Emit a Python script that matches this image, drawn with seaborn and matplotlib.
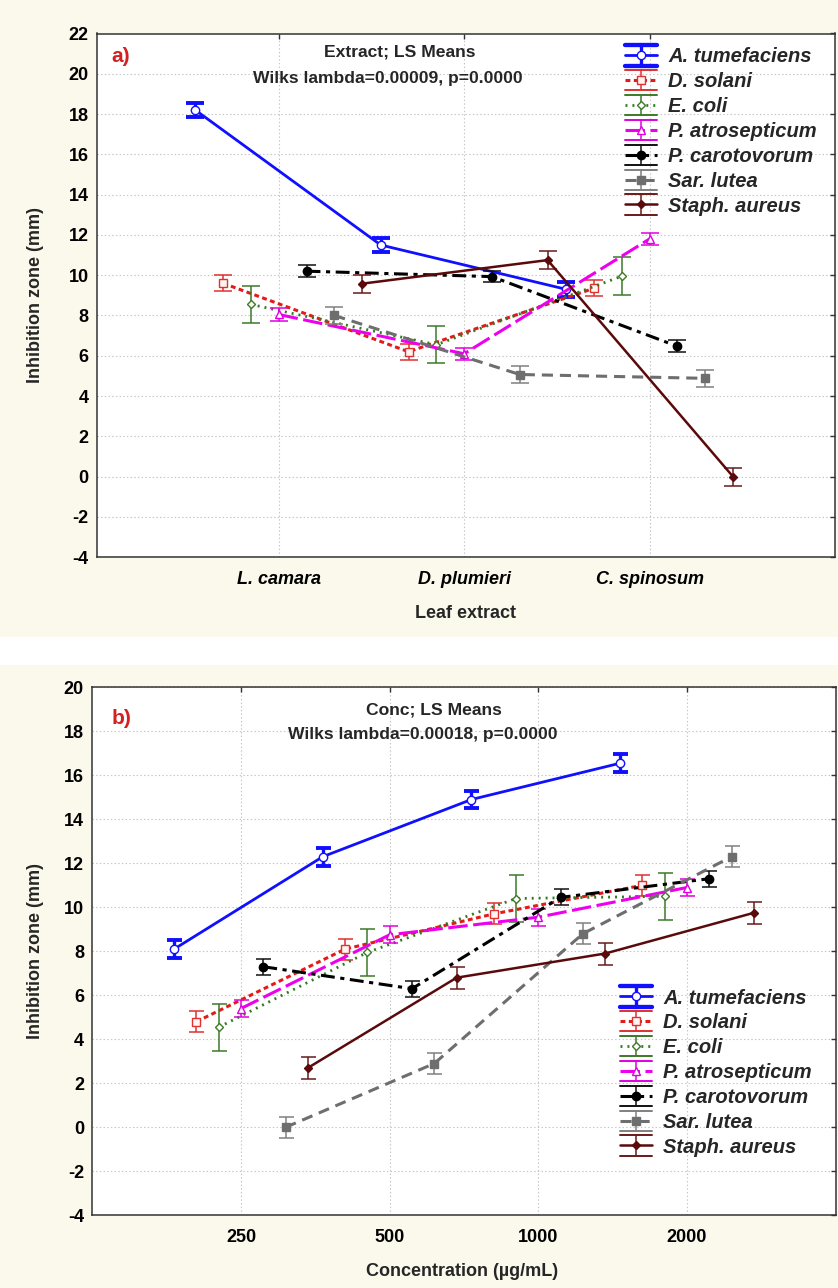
import numpy as np
import pandas as pd
import matplotlib
matplotlib.use("Agg")
import matplotlib.pyplot as plt
import seaborn as sns
from matplotlib.lines import Line2D
from matplotlib.patches import Rectangle
from matplotlib.legend_handler import HandlerBase

# ---------------- data ----------------
species = ["A. tumefaciens", "D. solani", "E. coli", "P. atrosepticum",
           "P. carotovorum", "Sar. lutea", "Staph. aureus"]

extracts = ["L. camara", "D. plumieri", "C. spinosum"]
ext_means = {
    "A. tumefaciens": [18.2, 11.5, 9.3],
    "D. solani":      [9.6, 6.2, 9.35],
    "E. coli":        [8.55, 6.55, 9.95],
    "P. atrosepticum": [8.05, 6.1, 11.8],
    "P. carotovorum": [10.2, 9.93, 6.47],
    "Sar. lutea":     [8.0, 5.07, 4.88],
    "Staph. aureus":  [9.58, 10.75, 0.0],
}
ext_err = {
    "A. tumefaciens": [0.36, 0.36, 0.36],
    "D. solani":      [0.39, 0.39, 0.39],
    "E. coli":        [0.93, 0.92, 0.93],
    "P. atrosepticum": [0.30, 0.30, 0.30],
    "P. carotovorum": [0.29, 0.29, 0.29],
    "Sar. lutea":     [0.43, 0.43, 0.43],
    "Staph. aureus":  [0.45, 0.45, 0.45],
}

concs = ["250", "500", "1000", "2000"]
conc_means = {
    "A. tumefaciens": [8.1, 12.3, 14.9, 16.55],
    "D. solani":      [4.8, 8.1, 9.7, 11.0],
    "E. coli":        [4.55, 7.95, 10.4, 10.5],
    "P. atrosepticum": [5.4, 8.75, 9.55, 10.9],
    "P. carotovorum": [7.3, 6.3, 10.45, 11.3],
    "Sar. lutea":     [0.0, 2.9, 8.8, 12.3],
    "Staph. aureus":  [2.7, 6.8, 7.9, 9.75],
}
conc_err = {
    "A. tumefaciens": [0.40, 0.40, 0.40, 0.40],
    "D. solani":      [0.48, 0.48, 0.48, 0.48],
    "E. coli":        [1.06, 1.08, 1.08, 1.06],
    "P. atrosepticum": [0.39, 0.39, 0.39, 0.39],
    "P. carotovorum": [0.36, 0.36, 0.36, 0.36],
    "Sar. lutea":     [0.48, 0.48, 0.48, 0.48],
    "Staph. aureus":  [0.50, 0.50, 0.50, 0.50],
}

# ---------------- styles ----------------
styles = {
    "A. tumefaciens": dict(color="#1010ff", ecolor="#1010ff", ls="-", lw=2.0,
                           marker="o", ms=6, mfc="white", mec="#1010ff",
                           elw=2.4, cth=2.8),
    "D. solani": dict(color="#e41a1a", ecolor="#e03030", ls=(0, (3.5, 2.5)), lw=2.2,
                      marker="s", ms=6, mfc="#fff4f0", mec="#e03030", elw=1.1, cth=1.1),
    "E. coli": dict(color="#2f7a1f", ecolor="#3c7a28", ls=(0, (1.4, 3.6)), lw=2.0,
                    marker="D", ms=4.5, mfc="white", mec="#3c7a28", elw=1.1, cth=1.1),
    "P. atrosepticum": dict(color="#ee00ee", ecolor="#e000e0", ls=(0, (14, 4)), lw=2.2,
                            marker="^", ms=6, mfc="white", mec="#e000e0", elw=1.1, cth=1.1),
    "P. carotovorum": dict(color="#000000", ecolor="#111111", ls=(0, (10, 4, 3, 4)), lw=2.2,
                           marker="o", ms=6, mfc="#000000", mec="#000000", elw=1.1, cth=1.1),
    "Sar. lutea": dict(color="#6e6e6e", ecolor="#808080", ls=(0, (8, 5)), lw=2.2,
                       marker="s", ms=6, mfc="#6e6e6e", mec="#6e6e6e", elw=1.1, cth=1.1),
    "Staph. aureus": dict(color="#5a0a0a", ecolor="#6a1a1a", ls="-", lw=1.8,
                          marker="D", ms=3.8, mfc="#5a0a0a", mec="#5a0a0a", elw=1.1, cth=1.1),
}

sns.set_style("white")
plt.rcParams["font.family"] = ["Liberation Sans", "DejaVu Sans"]
plt.rcParams["lines.scale_dashes"] = False

W, H = 838, 1288
fig = plt.figure(figsize=(W / 100, H / 100), dpi=100)
fig.patch.set_facecolor("white")
BEIGE = "#fbf8ec"
fig.patches.append(Rectangle((0, 1 - 637 / H), 1, 637 / H, transform=fig.transFigure,
                             facecolor=BEIGE, edgecolor="none", zorder=-10))
fig.patches.append(Rectangle((0, 0), 1, (H - 665) / H, transform=fig.transFigure,
                             facecolor=BEIGE, edgecolor="none", zorder=-10))


def px(x, y):
    return x / W, 1 - y / H


def make_axes(l, r, t, b):
    return fig.add_axes([l / W, 1 - b / H, (r - l) / W, (b - t) / H])


class SeriesKey:
    def __init__(self, name):
        self.name = name


class HandlerSeries(HandlerBase):
    def create_artists(self, legend, orig_handle, xdescent, ydescent, width, height,
                       fontsize, trans):
        st = styles[orig_handle.name]
        x0 = -xdescent
        x1 = x0 + width
        xc = (x0 + x1) / 2
        yc = -ydescent + height / 2
        dy = 0.72 * height
        arts = []
        for yy in (yc + dy, yc - dy):
            arts.append(Line2D([x0, x1], [yy, yy], color=st["ecolor"], lw=st["cth"] + 0.3,
                               transform=trans))
        arts.append(Line2D([xc, xc], [yc - dy, yc + dy], color=st["ecolor"], lw=st["elw"],
                           transform=trans))
        arts.append(Line2D([x0, x1], [yc, yc], color=st["color"], ls=st["ls"], lw=st["lw"],
                           transform=trans))
        arts.append(Line2D([xc], [yc], ls="none", marker=st["marker"], ms=st["ms"],
                           mfc=st["mfc"], mec=st["mec"], mew=1.0, transform=trans))
        return arts


def draw_panel(ax, cats, means, errs, capsize):
    n = len(species)
    offsets = (np.arange(n) - (n - 1) / 2) * 0.15
    base = np.arange(len(cats))
    for i, sp in enumerate(species):
        st = styles[sp]
        xpos = base + offsets[i]
        df = pd.DataFrame({"x": xpos, "y": means[sp]})
        ax.errorbar(xpos, means[sp], yerr=errs[sp], fmt="none", ecolor=st["ecolor"],
                    elinewidth=st["elw"], capsize=capsize, capthick=st["cth"],
                    zorder=3 + i * 0.1)
        sns.lineplot(data=df, x="x", y="y", ax=ax, color=st["color"], linestyle=st["ls"],
                     linewidth=st["lw"], marker=st["marker"], markersize=st["ms"],
                     markerfacecolor=st["mfc"], markeredgecolor=st["mec"],
                     markeredgewidth=1.0, errorbar=None, zorder=3.05 + i * 0.1,
                     legend=False)
    ax.set_xlabel("")
    ax.set_ylabel("")
    ax.set_facecolor("white")
    ax.grid(True, ls=":", color="#c4c4c4", lw=0.8)
    ax.set_axisbelow(True)
    for s in ax.spines.values():
        s.set_color("#333333")
        s.set_linewidth(1.1)
    ax.tick_params(direction="in", top=True, right=True, length=3.5, width=1,
                   colors="#333333", labelcolor="black")
    ax.tick_params(axis="y", pad=6)
    ax.tick_params(axis="x", pad=10)


# ---------------- panel a ----------------
ax1 = make_axes(97, 835, 33.5, 557.2)
draw_panel(ax1, extracts, ext_means, ext_err, capsize=6.6)
ax1.set_xlim(-0.98, 3.0)
ax1.set_ylim(-4, 22)
ax1.set_yticks(np.arange(-4, 23, 2))
ax1.set_yticklabels([str(v) for v in range(-4, 23, 2)], fontsize=13, fontweight="bold")
ax1.set_xticks(range(len(extracts)))
ax1.set_xticklabels(extracts, fontsize=13, fontweight="bold", style="italic")

# ---------------- panel b ----------------
ax2 = make_axes(92.3, 835.7, 687.3, 1215.3)
draw_panel(ax2, concs, conc_means, conc_err, capsize=5.4)
ax2.set_xlim(-1.0, 4.0)
ax2.set_ylim(-4, 20)
ax2.set_yticks(np.arange(-4, 21, 2))
ax2.set_yticklabels([str(v) for v in range(-4, 21, 2)], fontsize=13, fontweight="bold")
ax2.set_xticks(range(len(concs)))
ax2.set_xticklabels(concs, fontsize=13, fontweight="bold")

# ---------------- texts ----------------
fig.text(*px(121, 57), "a)", color="#d42020", fontsize=15, fontweight="bold",
         ha="center", va="center")
fig.text(*px(122, 718), "b)", color="#d42020", fontsize=15, fontweight="bold",
         ha="center", va="center")
fig.text(*px(400, 52), "Extract; LS Means", fontsize=12.6, fontweight="bold",
         ha="center", va="center")
fig.text(*px(388, 78), "Wilks lambda=0.00009, p=0.0000", fontsize=12.6, fontweight="bold",
         ha="center", va="center")
fig.text(*px(434, 710), "Conc; LS Means", fontsize=12.6, fontweight="bold",
         ha="center", va="center")
fig.text(*px(423, 734), "Wilks lambda=0.00018, p=0.0000", fontsize=12.6, fontweight="bold",
         ha="center", va="center")
fig.text(*px(36, 295), "Inhibition zone (mm)", fontsize=13, fontweight="bold",
         rotation=90, ha="center", va="center")
fig.text(*px(36, 951), "Inhibition zone (mm)", fontsize=13, fontweight="bold",
         rotation=90, ha="center", va="center")
fig.text(*px(465, 614), "Leaf extract", fontsize=13, fontweight="bold",
         ha="center", va="center")
fig.text(*px(462, 1271), "Concentration (µg/mL)", fontsize=13, fontweight="bold",
         ha="center", va="center")

# ---------------- legends ----------------
keys = [SeriesKey(s) for s in species]
for ax, anchor in ((ax1, px(625, 47.5)), (ax2, px(620, 988.5))):
    ax.legend(keys, species, handler_map={SeriesKey: HandlerSeries()},
              loc="upper left", bbox_to_anchor=anchor, bbox_transform=fig.transFigure,
              frameon=False, borderpad=0, borderaxespad=0, handlelength=1.6,
              handletextpad=0.55, labelspacing=0.29,
              prop=dict(family="Liberation Sans", weight="bold", style="italic", size=14.5))

fig.savefig("out.png", dpi=100, facecolor=fig.get_facecolor())
